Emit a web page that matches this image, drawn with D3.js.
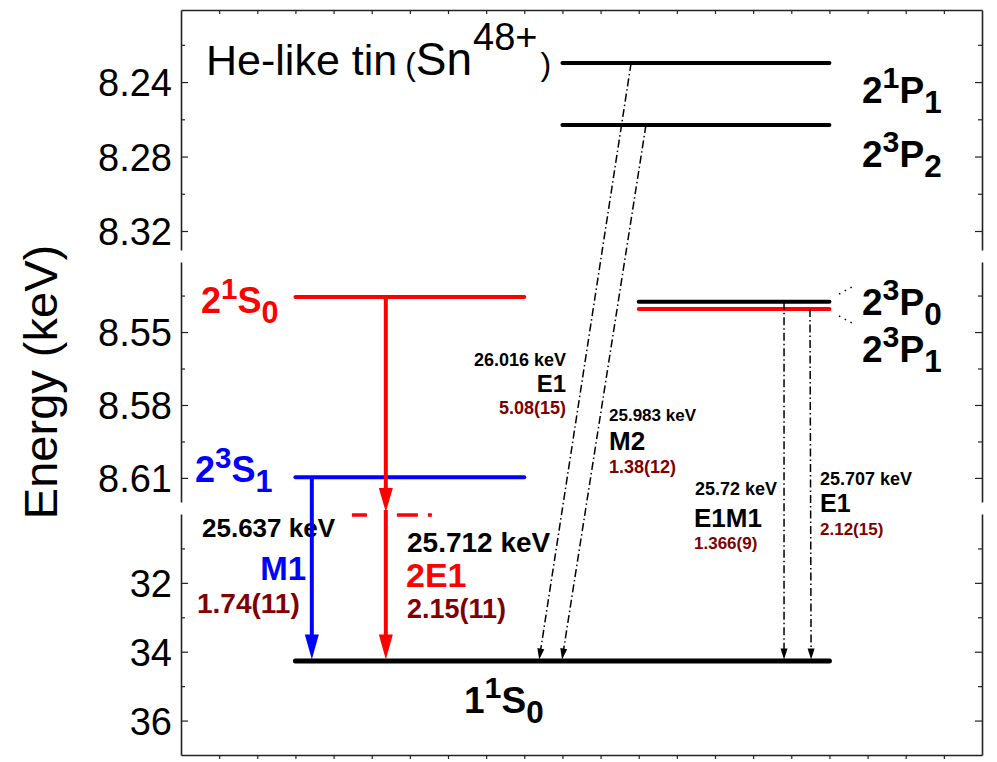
<!DOCTYPE html>
<html><head><meta charset="utf-8">
<script src="https://cdn.jsdelivr.net/npm/d3@7"></script>
<style>
body{margin:0;background:#fff}
svg{display:block}
text{font-family:Arial,"Liberation Sans",sans-serif}
</style>
</head><body>
<svg id="chart" width="997" height="762"></svg>
<script>
// ---------------- DATA ----------------
// energy levels (keV, axis is broken into three segments)
const levelNames    = ["2^1P_1", "2^3P_2", "2^1S_0", "2^3P_0", "2^3P_1", "2^3S_1", "1^1S_0", "virtual"];
const levelEnergies = [8.2298, 8.2631, 8.5356, 8.5375, 8.5405, 8.6097, 34.27, 30.03];
const levelXStart   = [10, 10, 3, 12, 12, 3, 3, 4.48];
const levelXEnd     = [17, 17, 9, 17, 17, 9, 17, 6.58];

// transitions
const transNames    = ["M1", "2E1", "E1", "M2", "E1M1", "E1"];
const transEnergies = ["25.637 keV", "25.712 keV", "26.016 keV", "25.983 keV", "25.72 keV", "25.707 keV"];
const transRates    = ["1.74(11)", "2.15(11)", "5.08(15)", "1.38(12)", "1.366(9)", "2.12(15)"];
const transFrom     = [5, 2, 0, 1, 3, 4];     // index into levels
const transTo       = [6, 6, 6, 6, 6, 6];
const transXFrom    = [3.43, 5.37, 11.8, 12.19, 15.81, 16.49];
const transXTo      = [3.43, 5.37, 9.39, 9.99, 15.81, 16.52];

// axis segments / ticks
const segDomains   = [[8.2013, 8.3302], [8.5212, 8.6199], [30, 37]];
const segMajor     = [[8.24, 8.28, 8.32], [8.55, 8.58, 8.61], [32, 34, 36]];
const segMinor     = [[8.22, 8.26, 8.30], [8.535, 8.565, 8.595], [31, 33, 35]];
const segFormats   = [".2f", ".2f", "d"];
const xTicks       = d3.range(1, 21);

// ---------------- LAYOUT ----------------
const mLeft = 181, mRight = 982, mTop = 10, mBottom = 755;
const segRanges = [[10, 250], [262, 502], [514, 755]];

const svg = d3.select("#chart");
const x = d3.scaleLinear().domain([0, 21]).range([mLeft, mRight]);
const ySegs = segDomains.map((d, i) => d3.scaleLinear().domain(d).range(segRanges[i]));
function y(v) {
  if (v < 8.4) return ySegs[0](v);
  if (v < 20) return ySegs[1](v);
  return ySegs[2](v);
}

const RED = "#ff0000", BLUE = "#0000ff", DRED = "#800000";
const levelColors = ["#000", "#000", RED, "#000", RED, BLUE, "#000", RED];

// ---------------- AXES ----------------
const axG = svg.append("g").attr("class", "axes");
axG.append("g").attr("transform", `translate(0,${mBottom})`)
  .call(d3.axisBottom(x).tickValues(xTicks).tickSize(4).tickSizeOuter(0).tickFormat(""));
axG.append("g").attr("transform", `translate(0,${mTop})`)
  .call(d3.axisTop(x).tickValues(xTicks).tickSize(-4).tickSizeOuter(0).tickFormat(""));

ySegs.forEach((s, i) => {
  const gl = axG.append("g").attr("transform", `translate(${mLeft},0)`);
  gl.call(d3.axisLeft(s).tickValues(segMajor[i]).tickSize(-7).tickSizeOuter(0)
    .tickPadding(9).tickFormat(d3.format(segFormats[i])));
  gl.append("g").call(d3.axisLeft(s).tickValues(segMinor[i]).tickSize(-4).tickFormat(""))
    .select(".domain").remove();
  const gr = axG.append("g").attr("transform", `translate(${mRight},0)`);
  gr.call(d3.axisRight(s).tickValues(segMajor[i]).tickSize(-7).tickSizeOuter(0).tickFormat(""));
  gr.append("g").call(d3.axisRight(s).tickValues(segMinor[i]).tickSize(-4).tickFormat(""))
    .select(".domain").remove();
});
axG.selectAll(".domain").attr("stroke", "#222").attr("stroke-width", 1.6);
axG.selectAll(".tick line").attr("stroke", "#222").attr("stroke-width", 1.2);
axG.selectAll(".tick text").attr("font-size", 38).attr("fill", "#000")
  .attr("font-family", "Arial, 'Liberation Sans', sans-serif").attr("dy", "0.36em");

svg.append("text")
  .attr("transform", "translate(57,382) rotate(-90)")
  .attr("text-anchor", "middle").attr("font-size", 47).text("Energy (keV)");

// ---------------- HELPERS ----------------
function richText(g, str, xp, yp, fs, color) {
  const t = g.append("text").attr("x", xp).attr("y", yp).attr("font-size", fs)
    .attr("fill", color).attr("font-weight", "bold");
  let shift = 0;
  const re = /(\^|_)?([^\^_])/g;
  let m;
  while ((m = re.exec(str)) !== null) {
    let target = 0, size = fs;
    if (m[1] === "^") { target = -0.4 * fs; size = fs * 0.82; }
    else if (m[1] === "_") { target = 0.28 * fs; size = fs * 0.85; }
    t.append("tspan").attr("dy", target - shift).attr("font-size", size).text(m[2]);
    shift = target;
  }
  return t;
}

function arrow(g, x1, y1, x2, y2, len, w, color, sw, dash) {
  const dx = x2 - x1, dy = y2 - y1, L = Math.hypot(dx, dy);
  const ux = dx / L, uy = dy / L, nx = -uy, ny = ux;
  const bx = x2 - ux * len, by = y2 - uy * len;
  g.append("line").attr("x1", x1).attr("y1", y1).attr("x2", bx + ux * 2).attr("y2", by + uy * 2)
    .attr("stroke", color).attr("stroke-width", sw).attr("stroke-dasharray", dash || null);
  g.append("path")
    .attr("d", `M${x2},${y2}L${bx + nx * w / 2},${by + ny * w / 2}L${bx - nx * w / 2},${by - ny * w / 2}Z`)
    .attr("fill", color);
}

// ---------------- LEVELS ----------------
const lv = svg.append("g");
levelNames.forEach((n, i) => {
  if (n === "virtual") {
    lv.append("line").attr("x1", x(levelXStart[i])).attr("x2", x(levelXEnd[i]))
      .attr("y1", y(levelEnergies[i])).attr("y2", y(levelEnergies[i]))
      .attr("stroke", RED).attr("stroke-width", 3.5)
      .attr("stroke-dasharray", "15,30,21,10,4,100");
    return;
  }
  lv.append("line").attr("x1", x(levelXStart[i])).attr("x2", x(levelXEnd[i]))
    .attr("y1", y(levelEnergies[i])).attr("y2", y(levelEnergies[i]))
    .attr("stroke", levelColors[i]).attr("stroke-width", i === 6 ? 5 : 4)
    .attr("stroke-linecap", "round");
});

// leader dots to the 2^3P_0 / 2^3P_1 labels
const ld = svg.append("g").attr("stroke", "#000").attr("stroke-width", 1.5)
  .attr("stroke-dasharray", "1.5,5");
ld.append("line").attr("x1", 839).attr("y1", 294).attr("x2", 852).attr("y2", 287);
ld.append("line").attr("x1", 839).attr("y1", 316).attr("x2", 852).attr("y2", 323);

// ---------------- LABELS ----------------
const lb = svg.append("g");
// title
const title = lb.append("text").attr("x", 206).attr("y", 75).attr("font-size", 43).attr("fill", "#000");
title.append("tspan").text("He-like tin");
title.append("tspan").attr("font-size", 32).attr("dx", 8).text("(");
title.append("tspan").attr("font-size", 46).text("Sn");
title.append("tspan").attr("font-size", 38).attr("dx", 1).attr("dy", -25).text("48+");
title.append("tspan").attr("font-size", 32).attr("dx", 3).attr("dy", 25).text(")");

// level labels
const levelLabelPos = {
  "2^1P_1": [862, 103, 37, "#000"],
  "2^3P_2": [862, 167, 37, "#000"],
  "2^3P_0": [862, 315, 37, "#000"],
  "2^3P_1": [862, 362, 37, "#000"],
  "2^1S_0": [201, 313, 36, RED],
  "2^3S_1": [195, 482, 36, BLUE],
  "1^1S_0": [464, 713, 37, "#000"]
};
Object.entries(levelLabelPos).forEach(([n, p]) => richText(lb, n, p[0], p[1], p[2], p[3]));

// transition labels
const transLabelPos = [
  [[202, 537, 26, "start"], [306, 580, 33, BLUE, "end"], [197, 613, 28, "start"]],
  [[407, 552, 28, "start"], [406, 587, 34, RED, "start"], [407, 618, 27, "start"]],
  [[566, 366, 18, "end"], [566, 392, 24, "#000", "end"], [566, 414, 18, "end"]],
  [[609, 421, 17, "start"], [609, 450, 26, "#000", "start"], [609, 473, 18, "start"]],
  [[695, 495, 18, "start"], [694, 527, 26, "#000", "start"], [694, 549, 17, "start"]],
  [[820, 485, 18, "start"], [820, 512, 25, "#000", "start"], [820, 535, 17, "start"]]
];
transNames.forEach((n, i) => {
  const p = transLabelPos[i];
  lb.append("text").attr("x", p[0][0]).attr("y", p[0][1]).attr("font-size", p[0][2])
    .attr("font-weight", "bold").attr("text-anchor", p[0][3]).text(transEnergies[i]);
  lb.append("text").attr("x", p[1][0]).attr("y", p[1][1]).attr("font-size", p[1][2])
    .attr("font-weight", "bold").attr("fill", p[1][3]).attr("text-anchor", p[1][4]).text(n);
  lb.append("text").attr("x", p[2][0]).attr("y", p[2][1]).attr("font-size", p[2][2])
    .attr("font-weight", "bold").attr("fill", DRED).attr("text-anchor", p[2][3]).text(transRates[i]);
});

// ---------------- TRANSITIONS ----------------
const tr = svg.append("g");
transNames.forEach((n, i) => {
  const x1 = x(transXFrom[i]), y1 = y(levelEnergies[transFrom[i]]);
  const x2 = x(transXTo[i]), y2 = y(levelEnergies[transTo[i]]) - 1.5;
  if (i === 0) {
    arrow(tr, x1, y1, x2, y2, 25, 14, BLUE, 4);
  } else if (i === 1) {
    const yv = y(levelEnergies[7]) - 3;
    arrow(tr, x1, y1, x1, yv, 24, 14, RED, 4);
    arrow(tr, x1, yv - 2, x2, y2, 25, 14, RED, 4);
  } else {
    arrow(tr, x1, y1, x2, y2, 11, 7, "#000", 1.5, "8,3,1.5,3");
  }
});
</script>
</body></html>
